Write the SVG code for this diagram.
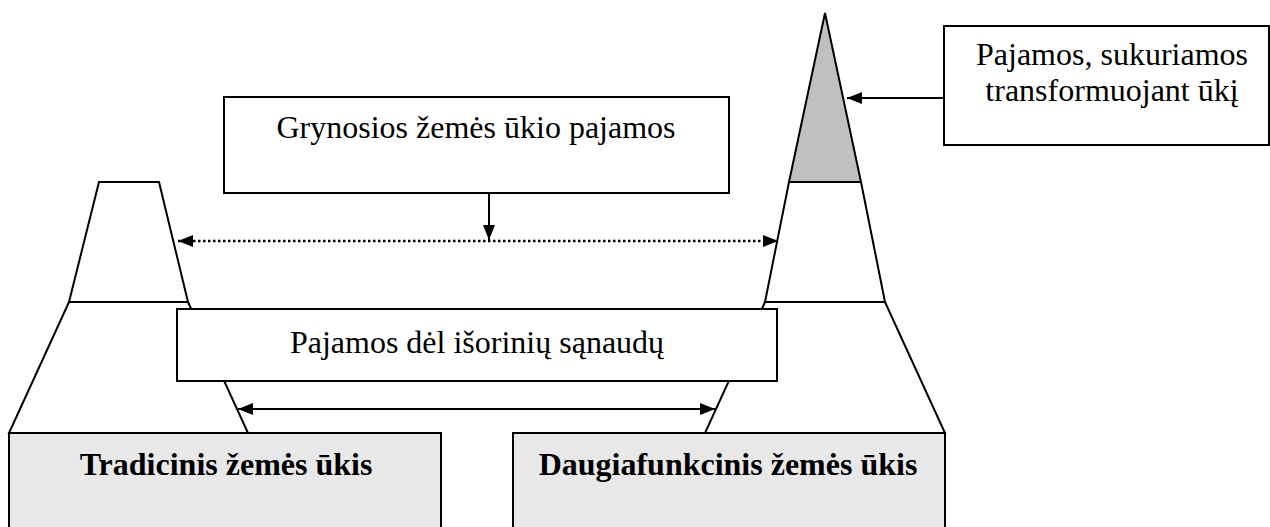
<svg xmlns="http://www.w3.org/2000/svg" width="1270" height="527" viewBox="0 0 1270 527">
<defs>
<style>
.ln{fill:none;stroke:#000;stroke-width:2}
.box{fill:#fff;stroke:#000;stroke-width:2}
.gbox{fill:#e8e8e8;stroke:#000;stroke-width:2}
.shape{fill:#fff;stroke:#000;stroke-width:2;stroke-linejoin:miter}
.t{font-family:"Liberation Serif","Times New Roman",serif;font-size:32px;fill:#000;text-anchor:middle}
.b{font-weight:bold}
.dot{fill:none;stroke:#000;stroke-width:2.5;stroke-dasharray:2.5 2.5}
</style>
<marker id="ah" viewBox="0 0 15 12" refX="15" refY="6" markerWidth="15" markerHeight="12" markerUnits="userSpaceOnUse" orient="auto-start-reverse">
<path d="M0,0 L15,6 L0,12 Z" fill="#000"/>
</marker>
</defs>
<rect width="1270" height="527" fill="#fff"/>

<g id="left-mountain">
<polygon class="shape" points="69,302 188,302 248,433 9,433"/>
<polygon class="shape" points="99,182 159,182 188,302 69,302"/>
</g>

<g id="right-mountain">
<polygon class="shape" points="765,302 885,302 945,433 705,433"/>
<polygon class="shape" points="789,182 861,182 885,302 765,302"/>
<polygon id="transform-peak" points="825,13 861,182 789,182" fill="#c0c0c0" stroke="#000" stroke-width="2"/>
</g>

<g id="node-net-income">
<rect class="box" x="224" y="97" width="505" height="96"/>
<text class="t" x="476" y="138">Grynosios žemės ūkio pajamos</text>
</g>

<g id="node-external-inputs">
<rect class="box" x="177" y="309" width="600" height="72"/>
<text class="t" x="477" y="353">Pajamos dėl išorinių sąnaudų</text>
</g>

<g id="node-transform">
<rect class="box" x="944" y="26" width="325" height="119"/>
<text class="t" x="1112" y="65">Pajamos, sukuriamos</text>
<text class="t" x="1112" y="101">transformuojant ūkį</text>
</g>

<g id="node-traditional">
<rect class="gbox" x="9" y="433" width="432" height="100"/>
<text class="t b" x="226" y="475">Tradicinis žemės ūkis</text>
</g>

<g id="node-multifunctional">
<rect class="gbox" x="513" y="433" width="432" height="100"/>
<text class="t b" x="728" y="475">Daugiafunkcinis žemės ūkis</text>
</g>

<g id="connectors">
<line class="ln" x1="489" y1="193" x2="489" y2="240" marker-end="url(#ah)"/>
<line class="dot" x1="178" y1="241" x2="778" y2="241" marker-start="url(#ah)" marker-end="url(#ah)"/>
<line class="ln" x1="238" y1="409" x2="715" y2="409" marker-start="url(#ah)" marker-end="url(#ah)"/>
<line class="ln" x1="944" y1="98" x2="847" y2="98" marker-end="url(#ah)"/>
</g>
</svg>
